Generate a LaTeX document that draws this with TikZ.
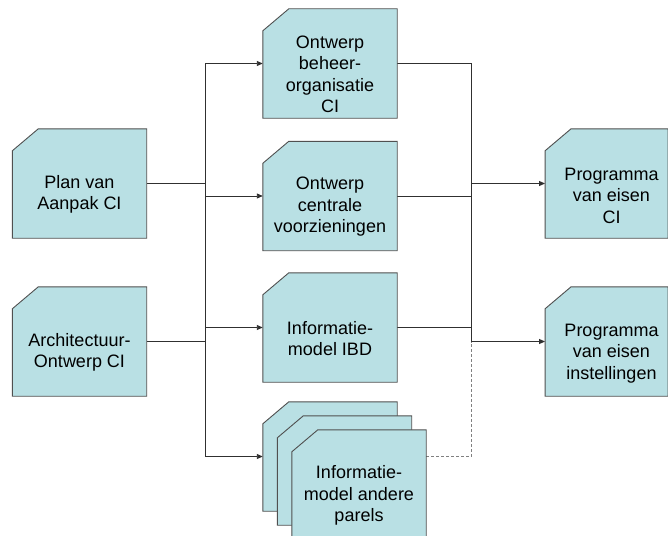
\documentclass[tikz,border=0pt]{standalone}
\usepackage{fontspec}
\setmainfont{Liberation Sans}
\usetikzlibrary{arrows.meta,calc}
\definecolor{cardfill}{HTML}{B9E0E4}
\definecolor{cardedge}{HTML}{505050}
\definecolor{connc}{HTML}{303030}
\definecolor{dashc}{HTML}{808080}
\tikzset{
  card/.style={rectangle, draw=none, fill=none, minimum width=134pt, minimum height=109pt, inner sep=0pt},
  cardnarrow/.style={card, minimum width=122.5pt},
  cardline/.style={draw=cardedge, fill=cardfill, line width=0.9pt, line join=miter},
  cardtext/.style={align=center, font=\fontsize{18}{21.5}\selectfont, inner sep=0pt},
  conn/.style={draw=connc, line width=0.9pt},
  arr/.style={-{Triangle[length=6pt,width=5pt]}},
  dashline/.style={draw=dashc, line width=0.9pt, dash pattern=on 3pt off 2pt}
}
\newcommand\cardshape[1]{\draw[cardline] (#1.south west) -- ([yshift=-22pt]#1.north west) -- ([xshift=26pt]#1.north west) -- (#1.north east) -- (#1.south east) -- cycle;}
\begin{document}
\begin{tikzpicture}[x=1pt,y=-1pt]
\clip (0,0) rectangle (668,535);
\fill[white] (0,0) rectangle (668,535);
% box frames
\node[card] (plan) at (79.5,183.5) {};
\node[card] (arch) at (79.5,341.5) {};
\node[card] (b1) at (330,63.5) {};
\node[card] (b2) at (330,196) {};
\node[card] (b3) at (330,327.5) {};
\node[card] (s1) at (330,456.5) {};
\node[card] (s2) at (344.5,470.5) {};
\node[card] (s3) at (359,484.5) {};
\node[cardnarrow] (p1) at (606.5,183.5) {};
\node[cardnarrow] (p2) at (606.5,341.5) {};
\coordinate (trunkL) at (205,0);
\coordinate (trunkR) at (471.5,0);
% connectors
\draw[conn] (plan.east) -- (plan.east -| trunkL);
\draw[conn] (arch.east) -- (arch.east -| trunkL);
\draw[conn] (b1.west -| trunkL) -- (s1.west -| trunkL);
\draw[conn,arr] (b1.west -| trunkL) -- (b1.west);
\draw[conn,arr] (b2.west -| trunkL) -- (b2.west);
\draw[conn,arr] (b3.west -| trunkL) -- (b3.west);
\draw[conn,arr] (s1.west -| trunkL) -- (s1.west);
\draw[conn] (b1.east) -- (b1.east -| trunkR);
\draw[conn] (b2.east) -- (b2.east -| trunkR);
\draw[conn] (b3.east) -- (b3.east -| trunkR);
\draw[conn] (b1.east -| trunkR) -- (p2.west -| trunkR);
\draw[conn,arr] (p1.west -| trunkR) -- (p1.west);
\draw[conn,arr] (p2.west -| trunkR) -- (p2.west);
\draw[dashline] (s1.west -| s3.east) -- (s1.west -| trunkR) -- (p2.west -| trunkR);
% shapes
\cardshape{plan}
\cardshape{arch}
\cardshape{b1}
\cardshape{b2}
\cardshape{b3}
\cardshape{s1}
\cardshape{s2}
\cardshape{s3}
\cardshape{p1}
\cardshape{p2}
% texts
\node[cardtext] (tplan) at ([yshift=-11pt]plan.center) {Plan van\\Aanpak CI};
\node[cardtext] (tarch) at ([yshift=-11pt]arch.center) {Architectuur-\\Ontwerp CI};
\node[cardtext] (tb1) at ([yshift=-11pt]b1.center) {Ontwerp\\beheer-\\organisatie\\CI};
\node[cardtext] (tb2) at ([yshift=-11pt]b2.center) {Ontwerp\\centrale\\voorzieningen};
\node[cardtext] (tb3) at ([yshift=-11pt]b3.center) {Informatie-\\model IBD};
\node[cardtext] (ts3) at ([yshift=-11pt]s3.center) {Informatie-\\model andere\\parels};
\node[cardtext] (tp1) at ([xshift=5pt,yshift=-12pt]p1.center) {Programma\\van eisen\\CI};
\node[cardtext] (tp2) at ([xshift=5pt,yshift=-12pt]p2.center) {Programma\\van eisen\\instellingen};
\end{tikzpicture}
\end{document}
